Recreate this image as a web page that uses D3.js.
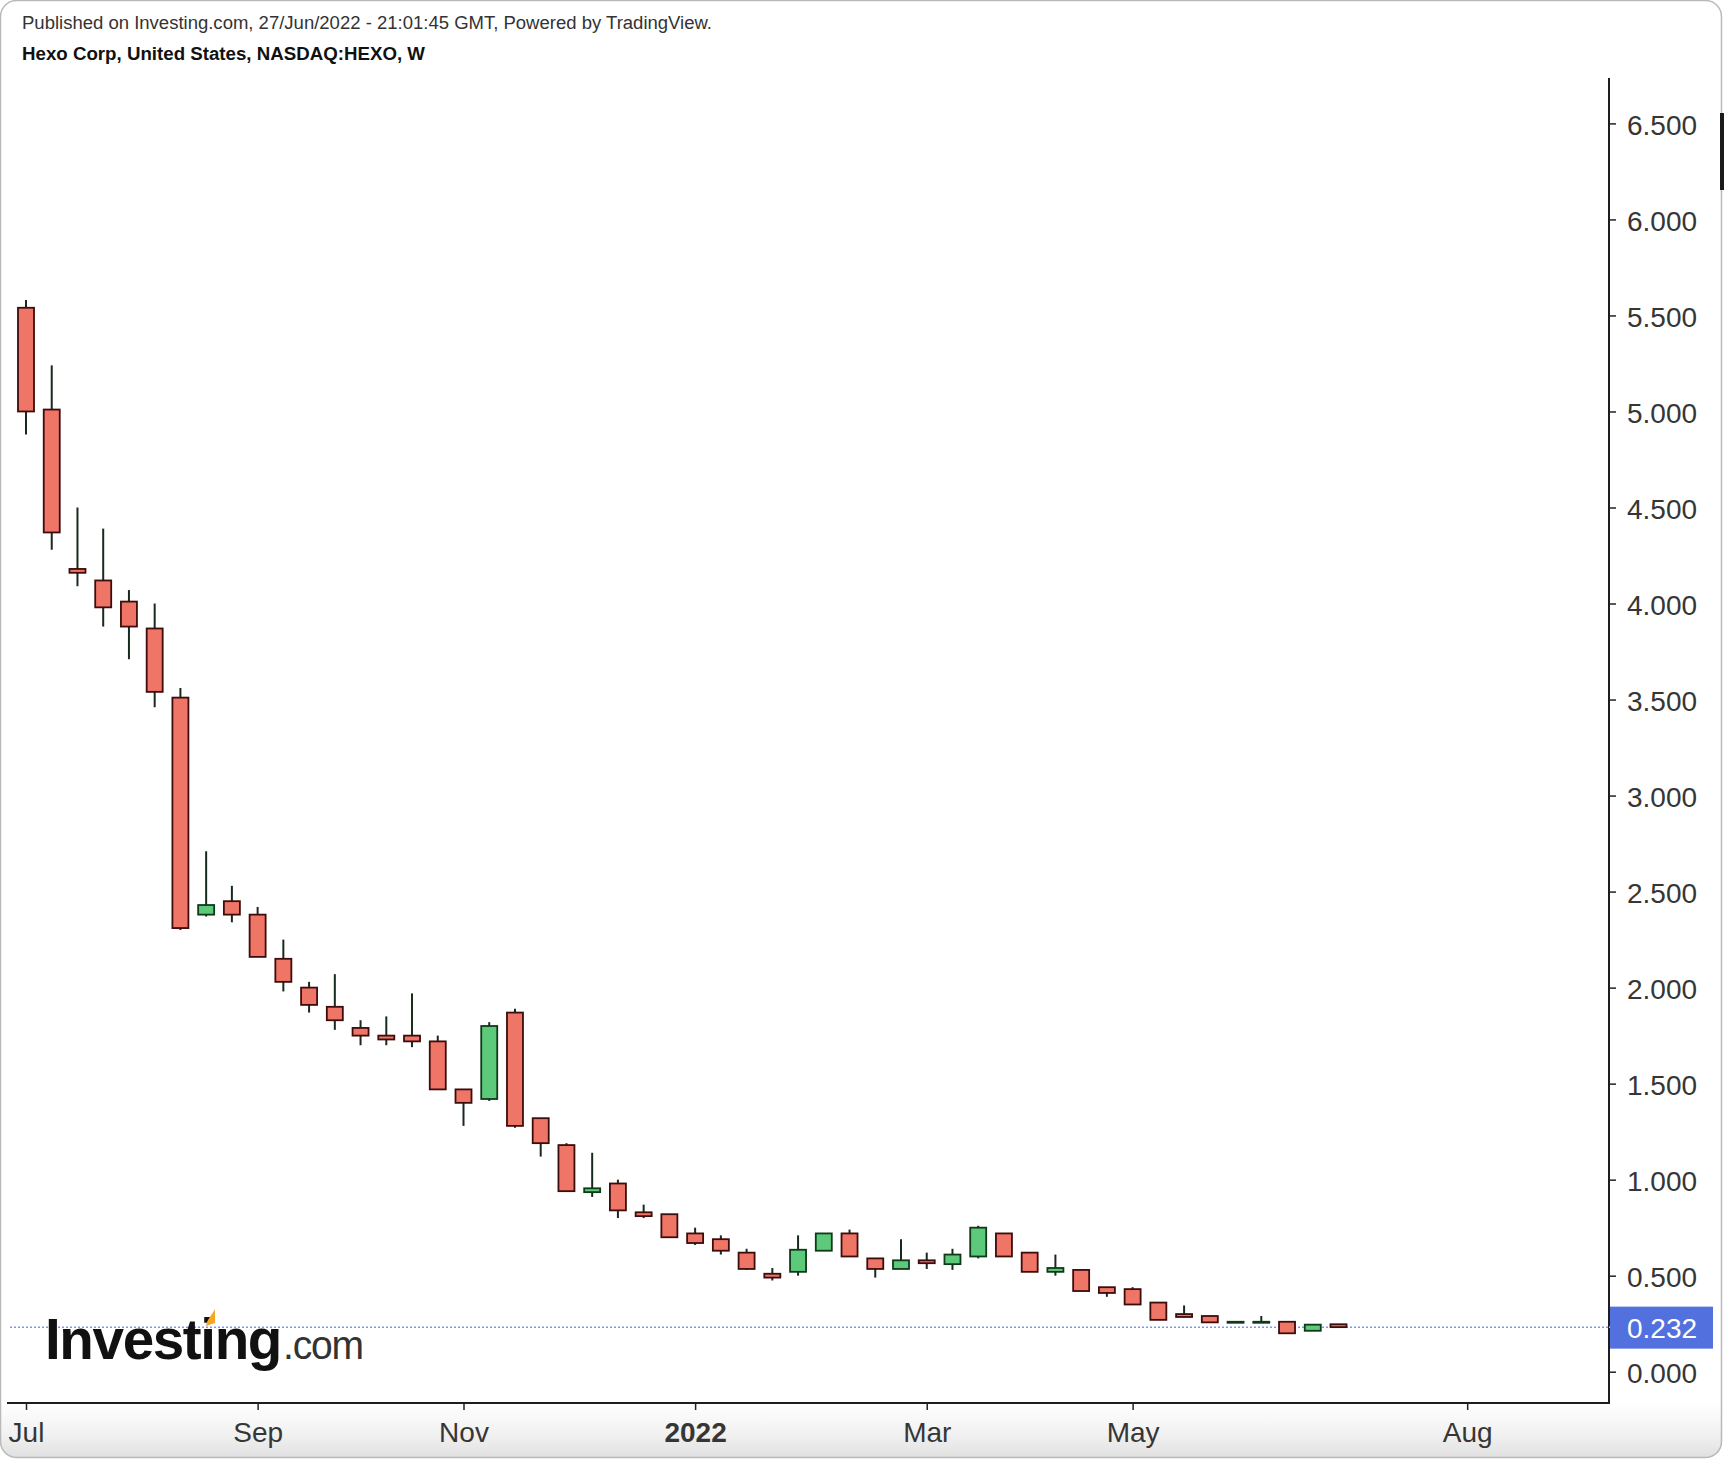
<!DOCTYPE html>
<html>
<head>
<meta charset="utf-8">
<script src="https://cdn.jsdelivr.net/npm/d3@7"></script>
<style>
  html, body { margin: 0; padding: 0; background: #ffffff; }
  svg { display: block; font-family: "Liberation Sans", Arial, sans-serif; }
</style>
</head>
<body>
<svg id="chart" width="1724" height="1460"></svg>
<script>
// ---------- DATA ----------
const weeks = [
  "2021-07-05","2021-07-12","2021-07-19","2021-07-26","2021-08-02","2021-08-09","2021-08-16","2021-08-23","2021-08-30",
  "2021-09-06","2021-09-13","2021-09-20","2021-09-27","2021-10-04","2021-10-11","2021-10-18","2021-10-25",
  "2021-11-01","2021-11-08","2021-11-15","2021-11-22","2021-11-29","2021-12-06","2021-12-13","2021-12-20","2021-12-27",
  "2022-01-03","2022-01-10","2022-01-17","2022-01-24","2022-01-31","2022-02-07","2022-02-14","2022-02-21","2022-02-28",
  "2022-03-07","2022-03-14","2022-03-21","2022-03-28","2022-04-04","2022-04-11","2022-04-18","2022-04-25",
  "2022-05-02","2022-05-09","2022-05-16","2022-05-23","2022-05-30","2022-06-06","2022-06-13","2022-06-20","2022-06-27"
];
const openV  = [5.54,5.01,4.18,4.12,4.01,3.87,3.51,2.38,2.45,2.38,2.15,2.00,1.90,1.79,1.75,1.75,1.72,1.47,1.42,1.87,1.32,1.18,0.935,0.98,0.83,0.82,0.72,0.69,0.62,0.51,0.52,0.63,0.72,0.59,0.535,0.58,0.56,0.60,0.72,0.62,0.52,0.53,0.44,0.43,0.36,0.30,0.29,0.26,0.26,0.26,0.213,0.247];
const highV  = [5.58,5.24,4.50,4.39,4.07,4.00,3.56,2.71,2.53,2.42,2.25,2.03,2.07,1.83,1.85,1.97,1.75,1.47,1.82,1.89,1.32,1.19,1.14,1.00,0.87,0.82,0.75,0.71,0.64,0.54,0.71,0.72,0.74,0.59,0.69,0.62,0.64,0.76,0.72,0.62,0.61,0.53,0.44,0.44,0.36,0.345,0.29,0.26,0.29,0.26,0.248,0.248];
const lowV   = [4.88,4.28,4.09,3.88,3.71,3.46,2.30,2.37,2.34,2.16,1.98,1.87,1.78,1.70,1.70,1.69,1.47,1.28,1.41,1.27,1.12,0.94,0.91,0.80,0.80,0.70,0.66,0.61,0.53,0.475,0.50,0.63,0.60,0.49,0.535,0.535,0.53,0.59,0.60,0.52,0.50,0.42,0.39,0.35,0.27,0.283,0.257,0.26,0.26,0.20,0.213,0.229];
const closeV = [5.00,4.37,4.16,3.98,3.88,3.54,2.31,2.43,2.38,2.16,2.03,1.91,1.83,1.75,1.73,1.72,1.47,1.40,1.80,1.28,1.19,0.94,0.955,0.84,0.81,0.70,0.67,0.63,0.535,0.49,0.635,0.72,0.60,0.535,0.58,0.565,0.61,0.75,0.60,0.52,0.54,0.42,0.41,0.35,0.27,0.285,0.257,0.26,0.26,0.20,0.245,0.232];

const xTickDates  = ["2021-07-05","2021-09-06","2021-11-01","2022-01-03","2022-03-07","2022-05-02","2022-08-01"];
const xTickLabels = ["Jul","Sep","Nov","2022","Mar","May","Aug"];
const yTicks = [0,0.5,1,1.5,2,2.5,3,3.5,4,4.5,5,5.5,6,6.5];
const lastPrice = 0.232;

const titleLine1 = "Published on Investing.com, 27/Jun/2022 - 21:01:45 GMT, Powered by TradingView.";
const titleLine2 = "Hexo Corp, United States, NASDAQ:HEXO, W";

// ---------- SETUP ----------
const parse = d3.utcParse("%Y-%m-%d");
const candles = weeks.map((w, i) => ({
  date: parse(w), o: openV[i], h: highV[i], l: lowV[i], c: closeV[i]
}));

const svg = d3.select("#chart");
const W = 1724, H = 1460;
const axisX = 1609, axisBottom = 1403, axisTop = 78, plotLeft = 7;

const x = d3.scaleUtc()
  .domain([parse(weeks[0]), parse(weeks[weeks.length - 1])])
  .range([26, 1338.5]);
const y = d3.scaleLinear().domain([0, 6.5]).range([1371.7, 123.4]);

// ---------- FRAME ----------
const defs = svg.append("defs");
const grad = defs.append("linearGradient").attr("id", "bottomGrad")
  .attr("x1", 0).attr("y1", 0).attr("x2", 0).attr("y2", 1);
grad.append("stop").attr("offset", "0%").attr("stop-color", "#ffffff");
grad.append("stop").attr("offset", "55%").attr("stop-color", "#f1f1f1");
grad.append("stop").attr("offset", "100%").attr("stop-color", "#dfdfdf");
defs.append("clipPath").attr("id", "frameClip")
  .append("rect").attr("x", 0).attr("y", 0).attr("width", W - 2).attr("height", H - 2).attr("rx", 16);

svg.append("rect").attr("x", 0).attr("y", 0).attr("width", W).attr("height", H).attr("fill", "#ffffff");
svg.append("rect").attr("x", 0).attr("y", axisBottom).attr("width", W).attr("height", H - axisBottom)
  .attr("fill", "url(#bottomGrad)").attr("clip-path", "url(#frameClip)");
svg.append("rect").attr("x", 0.5).attr("y", 0.5).attr("width", W - 3).attr("height", H - 3).attr("rx", 16)
  .attr("fill", "none").attr("stroke", "#b9b9b9").attr("stroke-width", 1.5);
// scrollbar mark on right edge
svg.append("rect").attr("x", 1720).attr("y", 113).attr("width", 4).attr("height", 77).attr("fill", "#1a1a1a");

// ---------- TITLES ----------
svg.append("text").attr("x", 22).attr("y", 29).attr("font-size", 18).attr("fill", "#333")
  .attr("textLength", 690).attr("lengthAdjust", "spacingAndGlyphs")
  .text(titleLine1);
svg.append("text").attr("x", 22).attr("y", 59.5).attr("font-size", 18).attr("font-weight", "bold").attr("fill", "#111")
  .attr("textLength", 403).attr("lengthAdjust", "spacingAndGlyphs")
  .text(titleLine2);

// ---------- LAST PRICE LINE ----------
svg.append("line").attr("x1", 10).attr("x2", axisX).attr("y1", y(lastPrice)).attr("y2", y(lastPrice))
  .attr("stroke", "#7d97ee").attr("stroke-width", 1.5).attr("stroke-dasharray", "2,2");

// ---------- LOGO ----------
const logoX = 45, logoY = 1359;
const logo = svg.append("g");
logo.append("text").attr("x", logoX).attr("y", logoY).attr("font-size", 58).attr("font-weight", "bold")
  .attr("letter-spacing", -1.4).attr("fill", "#111")
  .attr("textLength", 236).attr("lengthAdjust", "spacingAndGlyphs").text("Investing");
logo.append("text").attr("x", logoX + 238).attr("y", logoY).attr("font-size", 40)
  .attr("letter-spacing", -1.2).attr("fill", "#333")
  .attr("textLength", 80).attr("lengthAdjust", "spacingAndGlyphs").text(".com");
// orange accent on the "t"
logo.append("path")
  .attr("transform", `translate(${logoX + 165},${logoY - 47})`)
  .attr("d", "M-4,14 C-3,7 2,3 5,-3 L5,11 Z")
  .attr("fill", "#f5a623");

// ---------- CANDLES ----------
const bodyW = 16;
const upFill = "#5cc97b", upStroke = "#0f3a1a";
const dnFill = "#ef7566", dnStroke = "#3d0c0c";
const wickColor = "#172b1c";

const g = svg.append("g");
g.selectAll("line.wick").data(candles).join("line")
  .attr("class", "wick")
  .attr("x1", d => x(d.date)).attr("x2", d => x(d.date))
  .attr("y1", d => y(d.h)).attr("y2", d => y(d.l))
  .attr("stroke", wickColor).attr("stroke-width", 2);

g.selectAll("rect.body").data(candles).join("rect")
  .attr("class", "body")
  .attr("x", d => x(d.date) - bodyW / 2)
  .attr("width", bodyW)
  .attr("y", d => y(Math.max(d.o, d.c)))
  .attr("height", d => Math.max(1, Math.abs(y(d.o) - y(d.c))))
  .attr("fill", d => d.c >= d.o ? upFill : dnFill)
  .attr("stroke", d => d.c >= d.o ? upStroke : dnStroke)
  .attr("stroke-width", 1.8);

// ---------- AXES ----------
const yAxis = d3.axisRight(y).tickValues(yTicks).tickFormat(d3.format(".3f")).tickSize(7).tickPadding(11);
const yG = svg.append("g").attr("transform", `translate(${axisX},0)`).call(yAxis);
yG.select(".domain").remove();
yG.selectAll(".tick line").attr("stroke", "#222").attr("stroke-width", 1.5);
yG.selectAll(".tick text").attr("font-size", 28).attr("fill", "#363636").attr("dy", "0.4em")
  .attr("font-family", "'Liberation Sans', Arial, sans-serif");

const xAxis = d3.axisBottom(x).tickValues(xTickDates.map(parse))
  .tickFormat((d, i) => xTickLabels[i]).tickSize(7).tickPadding(12);
const xG = svg.append("g").attr("transform", `translate(0,${axisBottom})`).call(xAxis);
xG.select(".domain").remove();
xG.selectAll(".tick line").attr("stroke", "#222").attr("stroke-width", 1.5);
xG.selectAll(".tick text").attr("font-size", 28).attr("fill", "#363636")
  .attr("font-family", "'Liberation Sans', Arial, sans-serif")
  .attr("font-weight", (d, i) => xTickLabels[i] === "2022" ? "bold" : "normal");

// axis lines
svg.append("line").attr("x1", axisX).attr("x2", axisX).attr("y1", axisTop).attr("y2", axisBottom + 1)
  .attr("stroke", "#1e1e1e").attr("stroke-width", 2);
svg.append("line").attr("x1", plotLeft).attr("x2", axisX + 1).attr("y1", axisBottom).attr("y2", axisBottom)
  .attr("stroke", "#1e1e1e").attr("stroke-width", 2);

// ---------- PRICE LABEL ----------
const py = y(lastPrice);
svg.append("line").attr("x1", axisX).attr("x2", axisX + 7).attr("y1", py).attr("y2", py)
  .attr("stroke", "#c9d4f7").attr("stroke-width", 1.5);
svg.append("rect").attr("x", axisX + 1).attr("y", py - 20.5).attr("width", 103).attr("height", 42)
  .attr("fill", "#5271de");
svg.append("text").attr("x", axisX + 18).attr("y", py).attr("dy", "0.37em")
  .attr("font-size", 28).attr("fill", "#ffffff").text(d3.format(".3f")(lastPrice));
</script>
</body>
</html>
